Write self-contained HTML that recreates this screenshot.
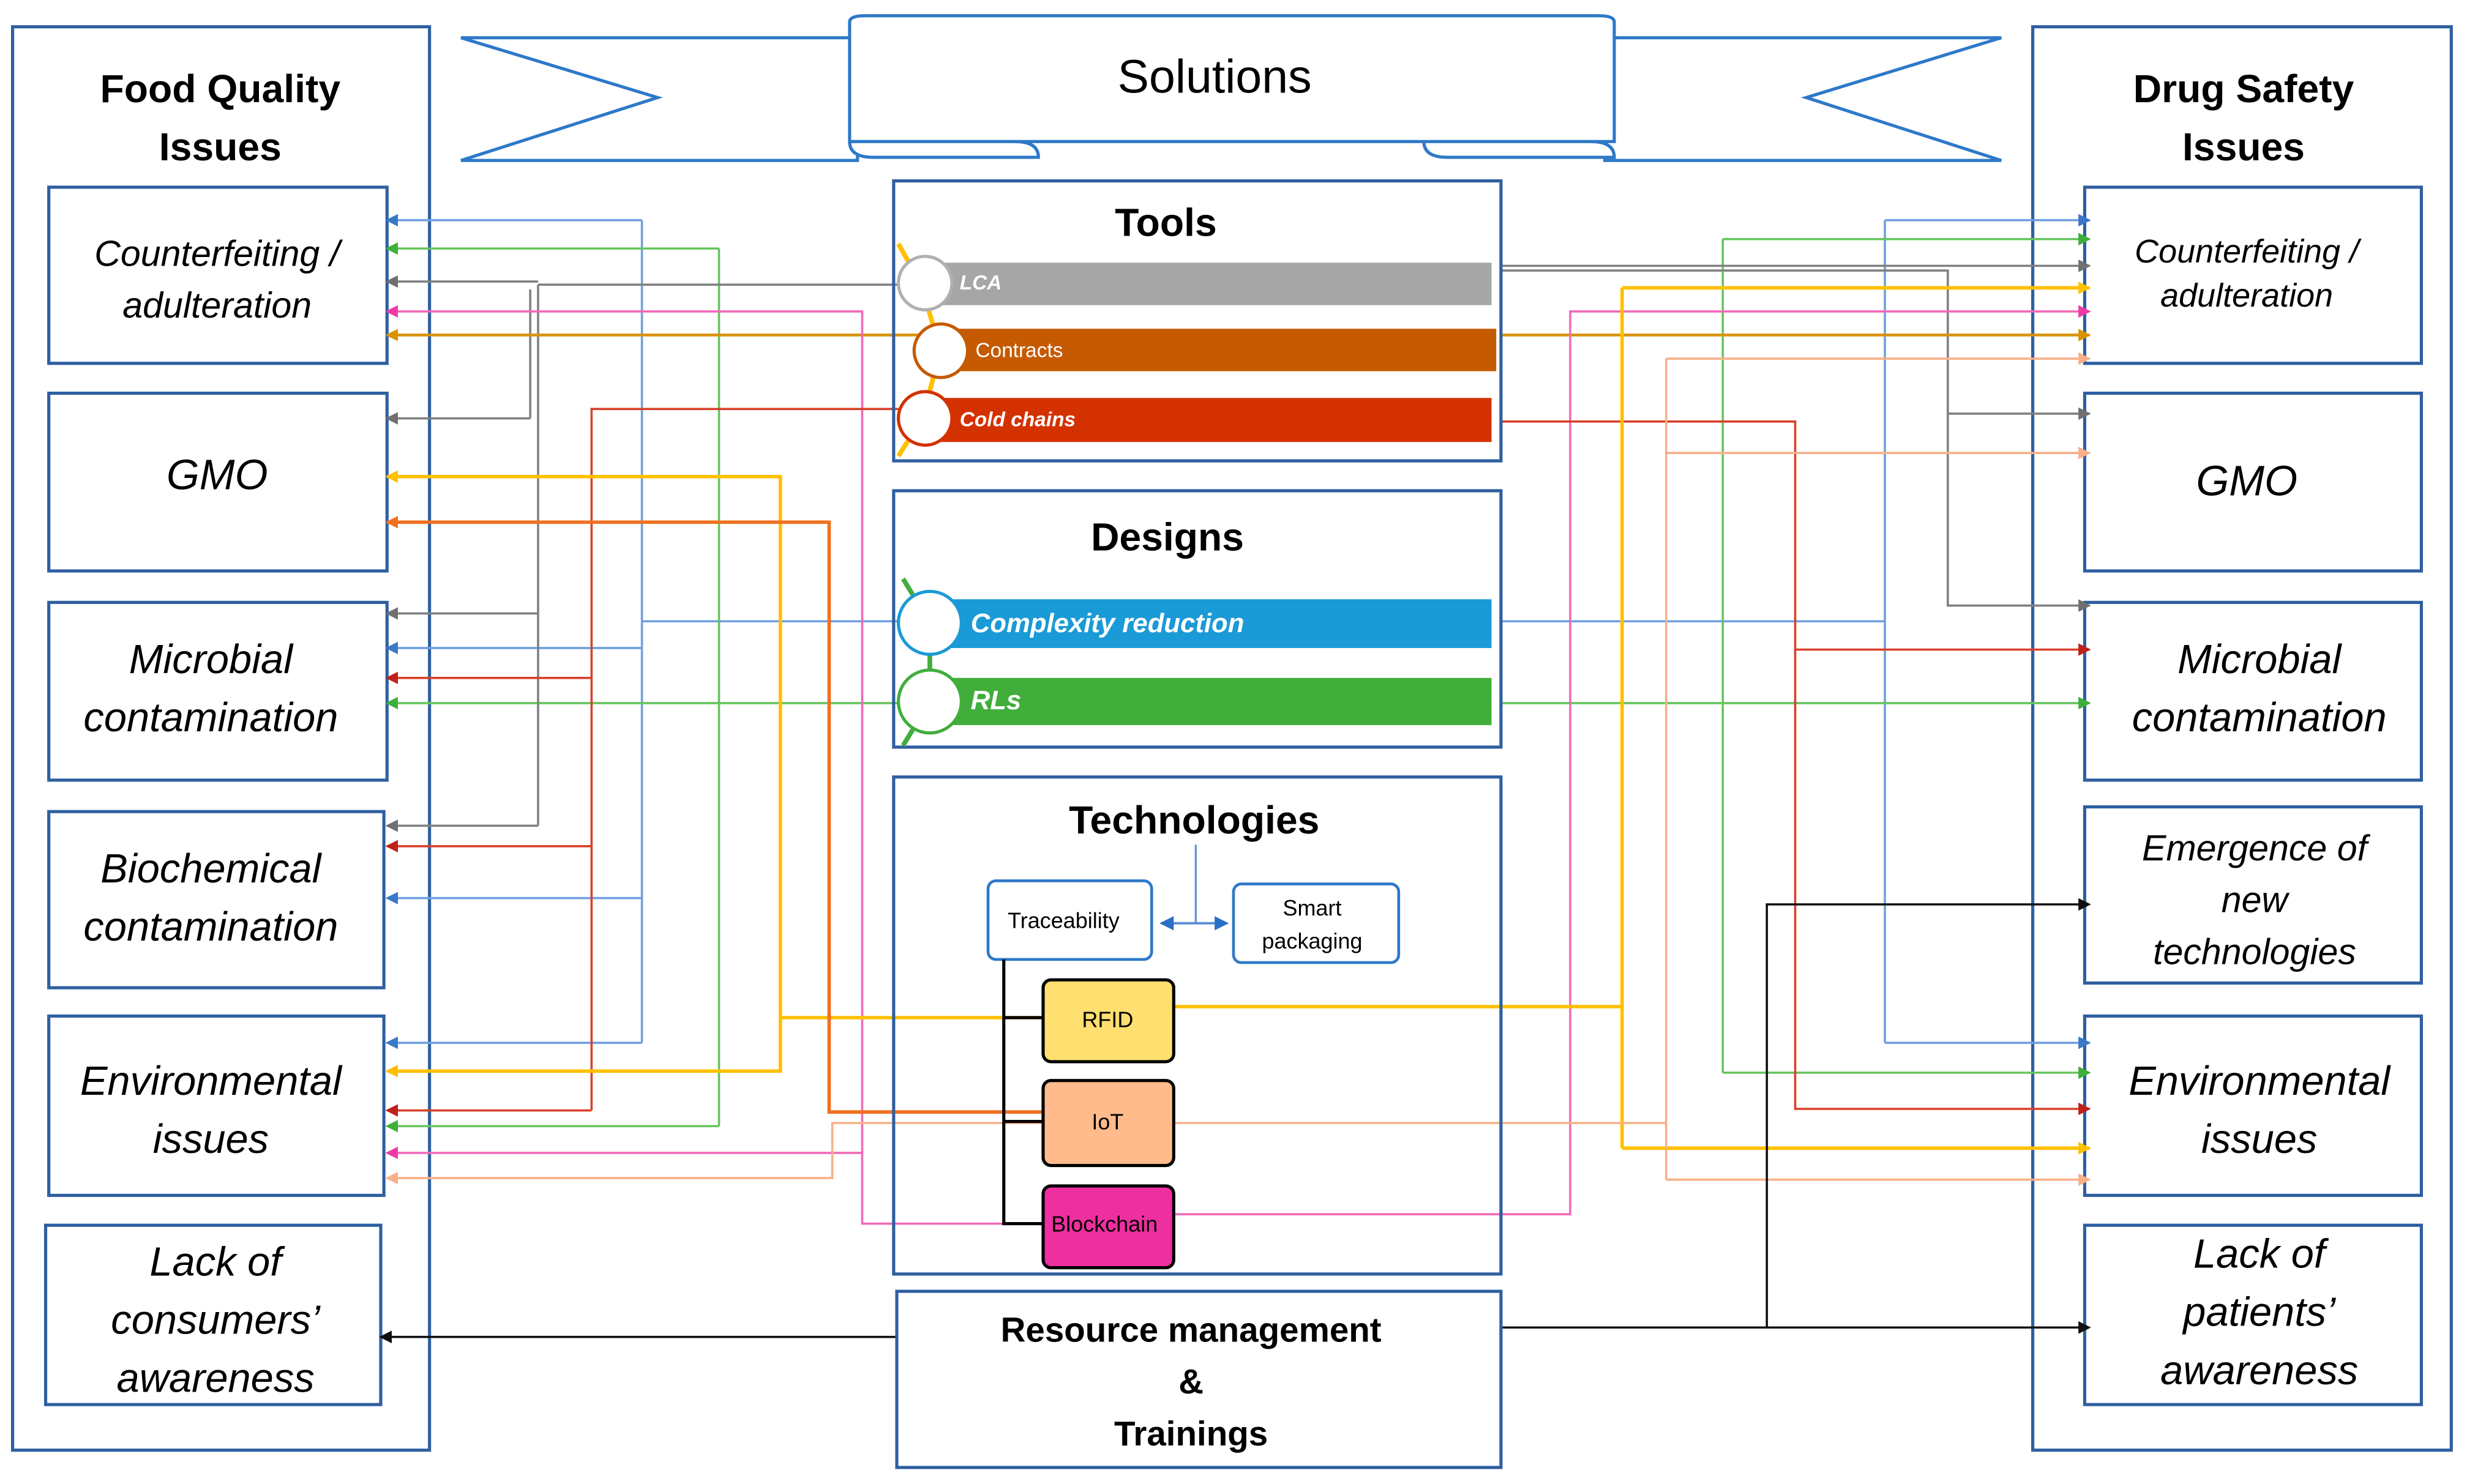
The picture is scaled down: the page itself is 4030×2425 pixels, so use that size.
<!DOCTYPE html>
<html><head><meta charset="utf-8"><style>html,body{margin:0;padding:0;background:#fff}svg{display:block}text{font-family:"Liberation Sans",sans-serif}</style></head>
<body>
<svg width="4030" height="2425" viewBox="0 0 1568 943.5" xmlns="http://www.w3.org/2000/svg">
<defs>
<marker id="mb" markerWidth="8" markerHeight="8" refX="7" refY="4" orient="auto" markerUnits="userSpaceOnUse"><path d="M0,0L8,4L0,8z" fill="#3a78c8"/></marker>
<marker id="mg" markerWidth="8" markerHeight="8" refX="7" refY="4" orient="auto" markerUnits="userSpaceOnUse"><path d="M0,0L8,4L0,8z" fill="#3fae3a"/></marker>
<marker id="mk" markerWidth="8" markerHeight="8" refX="7" refY="4" orient="auto" markerUnits="userSpaceOnUse"><path d="M0,0L8,4L0,8z" fill="#707070"/></marker>
<marker id="mo" markerWidth="8" markerHeight="8" refX="7" refY="4" orient="auto" markerUnits="userSpaceOnUse"><path d="M0,0L8,4L0,8z" fill="#d99200"/></marker>
<marker id="mp" markerWidth="8" markerHeight="8" refX="7" refY="4" orient="auto" markerUnits="userSpaceOnUse"><path d="M0,0L8,4L0,8z" fill="#ee3aa6"/></marker>
<marker id="mr" markerWidth="8" markerHeight="8" refX="7" refY="4" orient="auto" markerUnits="userSpaceOnUse"><path d="M0,0L8,4L0,8z" fill="#c0201a"/></marker>
<marker id="my" markerWidth="8" markerHeight="8" refX="7" refY="4" orient="auto" markerUnits="userSpaceOnUse"><path d="M0,0L8,4L0,8z" fill="#ffc000"/></marker>
<marker id="mor" markerWidth="8" markerHeight="8" refX="7" refY="4" orient="auto" markerUnits="userSpaceOnUse"><path d="M0,0L8,4L0,8z" fill="#f07020"/></marker>
<marker id="mpe" markerWidth="8" markerHeight="8" refX="7" refY="4" orient="auto" markerUnits="userSpaceOnUse"><path d="M0,0L8,4L0,8z" fill="#f8b088"/></marker>
<marker id="mbl" markerWidth="8" markerHeight="8" refX="7" refY="4" orient="auto" markerUnits="userSpaceOnUse"><path d="M0,0L8,4L0,8z" fill="#111"/></marker>
<marker id="mbs" markerWidth="9" markerHeight="9" refX="8" refY="4.5" orient="auto-start-reverse" markerUnits="userSpaceOnUse"><path d="M0,0L9,4.5L0,9z" fill="#2a70c8"/></marker>
</defs>

<rect x="8" y="17" width="265" height="905" fill="none" stroke="#2e5fa0" stroke-width="2"/>
<rect x="1292" y="17" width="266" height="905" fill="none" stroke="#2e5fa0" stroke-width="2"/>
<text x="140" y="65" font-size="25" font-weight="bold" text-anchor="middle">Food Quality</text>
<text x="140" y="102" font-size="25" font-weight="bold" text-anchor="middle">Issues</text>
<text x="1426" y="65" font-size="25" font-weight="bold" text-anchor="middle">Drug Safety</text>
<text x="1426" y="102" font-size="25" font-weight="bold" text-anchor="middle">Issues</text>

<g fill="#fff" stroke="#2e5fa0" stroke-width="2">
<rect x="31" y="119" width="215" height="112"/><rect x="31" y="250" width="215" height="113"/><rect x="31" y="383" width="215" height="113"/>
<rect x="31" y="516" width="213" height="112"/><rect x="31" y="646" width="213" height="114"/><rect x="29" y="779" width="213" height="114"/>
<rect x="1325" y="119" width="214" height="112"/><rect x="1325" y="250" width="214" height="113"/><rect x="1325" y="383" width="214" height="113"/>
<rect x="1325" y="513" width="214" height="112"/><rect x="1325" y="646" width="214" height="114"/><rect x="1325" y="779" width="214" height="114"/>
</g>
<g font-style="italic" text-anchor="middle" font-size="23">
<text x="138" y="169">Counterfeiting /</text><text x="138" y="202">adulteration</text>
<text x="138" y="311" font-size="27">GMO</text>
<text x="134" y="428" font-size="26">Microbial</text><text x="134" y="465" font-size="26">contamination</text>
<text x="134" y="561" font-size="26">Biochemical</text><text x="134" y="598" font-size="26">contamination</text>
<text x="134" y="696" font-size="26">Environmental</text><text x="134" y="733" font-size="26">issues</text>
<text x="137" y="811" font-size="26">Lack of</text><text x="137" y="848" font-size="26">consumers’</text><text x="137" y="885" font-size="26">awareness</text>
<text x="1428" y="167" font-size="21">Counterfeiting /</text><text x="1428" y="195" font-size="21">adulteration</text>
<text x="1428" y="315" font-size="27">GMO</text>
<text x="1436" y="428" font-size="26">Microbial</text><text x="1436" y="465" font-size="26">contamination</text>
<text x="1433" y="547">Emergence of</text><text x="1433" y="580">new</text><text x="1433" y="613">technologies</text>
<text x="1436" y="696" font-size="26">Environmental</text><text x="1436" y="733" font-size="26">issues</text>
<text x="1436" y="806" font-size="26">Lack of</text><text x="1436" y="843" font-size="26">patients’</text><text x="1436" y="880" font-size="26">awareness</text>
</g>

<g fill="#fff" stroke="#2e78c8" stroke-width="2">
<path d="M293,24 L545,24 L545,102 L293,102 L418,62 Z"/>
<path d="M1272,24 L1020,24 L1020,102 L1272,102 L1148,62 Z"/>
<path d="M540,90 Q540,100 555,100 L660,100 Q660,90 645,90"/>
<path d="M905,90 Q905,100 920,100 L1026,100 Q1026,90 1011,90"/>
<path d="M540,14 Q540,10 550,10 L1016,10 Q1026,10 1026,14 L1026,90 L540,90 Z"/>
</g>
<text x="772" y="59" font-size="30" text-anchor="middle">Solutions</text>

<g fill="none" stroke-width="1.4">
<g stroke="#6fa0e0"><path d="M591,395 H408"/><path d="M408,140 V663"/><path d="M408,140 H246" marker-end="url(#mb)"/><path d="M408,412 H246" marker-end="url(#mb)"/><path d="M408,571 H246" marker-end="url(#mb)"/><path d="M408,663 H246" marker-end="url(#mb)"/>
<path d="M954,395 H1198"/><path d="M1198,140 V663"/><path d="M1198,140 H1328" marker-end="url(#mb)"/><path d="M1198,663 H1328" marker-end="url(#mb)"/></g>
<g stroke="#66c45e"><path d="M572,447 H457"/><path d="M457,158 V716"/><path d="M457,158 H246" marker-end="url(#mg)"/><path d="M457,447 H246" marker-end="url(#mg)"/><path d="M457,716 H246" marker-end="url(#mg)"/>
<path d="M954,447 H1328" marker-end="url(#mg)"/><path d="M1095,152 V682"/><path d="M1095,152 H1328" marker-end="url(#mg)"/><path d="M1095,682 H1328" marker-end="url(#mg)"/></g>
<g stroke="#808080"><path d="M588,181 H342"/><path d="M342,181 V525"/><path d="M337,184 V266"/><path d="M342,179 H246" marker-end="url(#mk)"/><path d="M337,266 H246" marker-end="url(#mk)"/><path d="M342,390 H246" marker-end="url(#mk)"/><path d="M342,525 H246" marker-end="url(#mk)"/>
<path d="M954,169 H1328" marker-end="url(#mk)"/><path d="M954,172 H1238 V385 H1328" marker-end="url(#mk)"/><path d="M1238,263 H1328" marker-end="url(#mk)"/></g>
<g stroke="#d99200" stroke-width="1.8"><path d="M598,213 H246" marker-end="url(#mo)"/><path d="M954,213 H1328" marker-end="url(#mo)"/></g>
<g stroke="#f06ab8"><path d="M663,778 H548 V198 H246" marker-end="url(#mp)"/><path d="M548,733 H246" marker-end="url(#mp)"/>
<path d="M746,772 H998 V198 H1328" marker-end="url(#mp)"/></g>
<g stroke="#d8402a"><path d="M588,260 H376 V706"/><path d="M376,431 H246" marker-end="url(#mr)"/><path d="M376,538 H246" marker-end="url(#mr)"/><path d="M376,706 H246" marker-end="url(#mr)"/>
<path d="M954,268 H1141 V705 H1328" marker-end="url(#mr)"/><path d="M1141,413 H1328" marker-end="url(#mr)"/></g>
<g stroke="#ffc000" stroke-width="2.2"><path d="M663,647 H496 V681 H246" marker-end="url(#my)"/><path d="M496,647 V303 H246" marker-end="url(#my)"/>
<path d="M735,640 H1031"/><path d="M1031,183 V730"/><path d="M1031,183 H1328" marker-end="url(#my)"/><path d="M1031,730 H1328" marker-end="url(#my)"/></g>
<g stroke="#f07020" stroke-width="2.2"><path d="M663,707 H527 V332 H246" marker-end="url(#mor)"/></g>
<g stroke="#f8b088"><path d="M663,714 H529 V749 H246" marker-end="url(#mpe)"/>
<path d="M746,714 H1059"/><path d="M1059,228 V750"/><path d="M1059,228 H1328" marker-end="url(#mpe)"/><path d="M1059,288 H1328" marker-end="url(#mpe)"/><path d="M1059,750 H1328" marker-end="url(#mpe)"/></g>
<g stroke="#111"><path d="M570,850 H242" marker-end="url(#mbl)"/><path d="M954,844 H1328" marker-end="url(#mbl)"/><path d="M1123,844 V575 H1328" marker-end="url(#mbl)"/></g>
</g>

<rect x="568" y="115" width="386" height="178" fill="none" stroke="#2e5fa0" stroke-width="2"/>
<text x="741" y="150" font-size="25" font-weight="bold" text-anchor="middle">Tools</text>
<path d="M571,155 L585,180 L598,223 L586,266 L571,290" fill="none" stroke="#ffc000" stroke-width="3"/>
<rect x="588" y="167" width="360" height="27" fill="#a6a6a6"/>
<rect x="598" y="209" width="353" height="27" fill="#c55a00"/>
<rect x="588" y="253" width="360" height="28" fill="#d43100"/>
<circle cx="588" cy="180" r="17" fill="#fff" stroke="#b0b0b0" stroke-width="2"/>
<circle cx="598" cy="223" r="17" fill="#fff" stroke="#c55a00" stroke-width="2"/>
<circle cx="588" cy="266" r="17" fill="#fff" stroke="#d43100" stroke-width="2"/>
<text x="610" y="184" font-size="13" font-weight="bold" font-style="italic" fill="#fff">LCA</text>
<text x="620" y="227" font-size="13" fill="#fff">Contracts</text>
<text x="610" y="271" font-size="13" font-weight="bold" font-style="italic" fill="#fff">Cold chains</text>

<rect x="568" y="312" width="386" height="163" fill="none" stroke="#2e5fa0" stroke-width="2"/>
<text x="742" y="350" font-size="25" font-weight="bold" text-anchor="middle">Designs</text>
<path d="M574,368 L591,396 L591,446 L574,474" fill="none" stroke="#41ae3b" stroke-width="3"/>
<rect x="591" y="381" width="357" height="31" fill="#1a9ad6"/>
<rect x="591" y="431" width="357" height="30" fill="#41ae3b"/>
<circle cx="591" cy="396" r="20" fill="#fff" stroke="#1a9ad6" stroke-width="2"/>
<circle cx="591" cy="446" r="20" fill="#fff" stroke="#41ae3b" stroke-width="2"/>
<text x="617" y="402" font-size="17" font-weight="bold" font-style="italic" fill="#fff">Complexity reduction</text>
<text x="617" y="451" font-size="17" font-weight="bold" font-style="italic" fill="#fff">RLs</text>

<rect x="568" y="494" width="386" height="316" fill="none" stroke="#2e5fa0" stroke-width="2"/>
<text x="759" y="530" font-size="25" font-weight="bold" text-anchor="middle">Technologies</text>
<path d="M760,537 V587" stroke="#5b8fd6" stroke-width="1.2"/>
<path d="M738,587 H780" stroke="#5b8fd6" stroke-width="1.5" marker-start="url(#mbs)" marker-end="url(#mbs)"/>
<rect x="628" y="560" width="104" height="50" rx="5" fill="#fff" stroke="#2e78c8" stroke-width="1.8"/>
<rect x="784" y="562" width="105" height="50" rx="5" fill="#fff" stroke="#2e78c8" stroke-width="1.8"/>
<text x="676" y="590" font-size="14" text-anchor="middle">Traceability</text>
<text x="834" y="582" font-size="14" text-anchor="middle">Smart</text>
<text x="834" y="603" font-size="14" text-anchor="middle">packaging</text>
<path d="M638,610 V778 H663 M638,647 H663 M638,713 H663" fill="none" stroke="#000" stroke-width="2"/>
<rect x="663" y="623" width="83" height="52" rx="5" fill="#ffdf70" stroke="#000" stroke-width="2"/>
<rect x="663" y="687" width="83" height="54" rx="5" fill="#ffbb8c" stroke="#000" stroke-width="2"/>
<rect x="663" y="754" width="83" height="52" rx="5" fill="#ee2fa0" stroke="#000" stroke-width="2"/>
<text x="704" y="653" font-size="14" text-anchor="middle">RFID</text>
<text x="704" y="718" font-size="14" text-anchor="middle">IoT</text>
<text x="702" y="783" font-size="14" text-anchor="middle">Blockchain</text>

<rect x="570" y="821" width="384" height="112" fill="#fff" stroke="#2e5fa0" stroke-width="2"/>
<text x="757" y="853" font-size="22" font-weight="bold" text-anchor="middle">Resource management</text>
<text x="757" y="886" font-size="22" font-weight="bold" text-anchor="middle">&amp;</text>
<text x="757" y="919" font-size="22" font-weight="bold" text-anchor="middle">Trainings</text>
</svg>
</body></html>
